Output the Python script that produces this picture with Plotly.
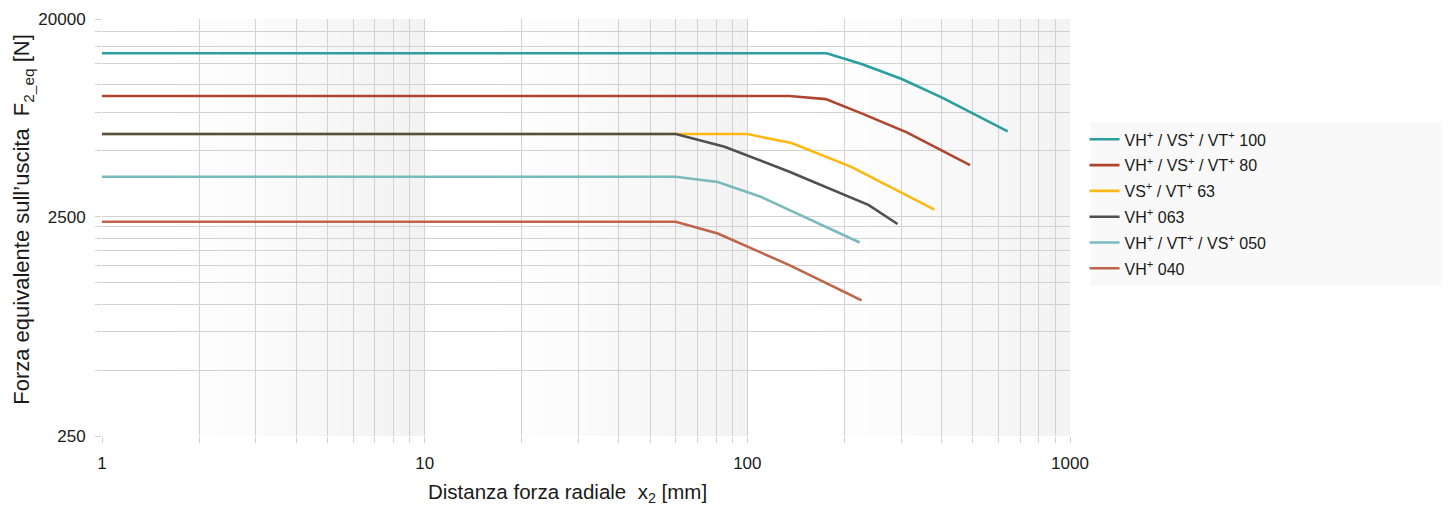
import numpy as np
import plotly.graph_objects as go

# valori (x2 in mm, F2_eq in N)
x_100 = [1, 176, 226, 301, 400, 501, 641]
y_100 = [13950, 13950, 12460, 10650, 8780, 7410, 6140]

x_80 = [1, 135, 175, 226, 312, 490]
y_80 = [8900, 8900, 8620, 7420, 6080, 4310]

x_63 = [1, 60, 100, 137, 210, 380]
y_63 = [5970, 5970, 5970, 5430, 4230, 2700]

x_063 = [1, 60, 85, 135, 238, 292]
y_063 = [5970, 5970, 5220, 4020, 2830, 2320]

x_050 = [1, 60, 81, 110, 223]
y_050 = [3810, 3810, 3610, 3090, 1910]

x_040 = [1, 60, 81, 135, 226]
y_040 = [2375, 2375, 2100, 1505, 1040]

names = ["VH<sup>+</sup> / VS<sup>+</sup> / VT<sup>+</sup> 100",
         "VH<sup>+</sup> / VS<sup>+</sup> / VT<sup>+</sup> 80",
         "VS<sup>+</sup> / VT<sup>+</sup> 63",
         "VH<sup>+</sup> 063",
         "VH<sup>+</sup> / VT<sup>+</sup> / VS<sup>+</sup> 050",
         "VH<sup>+</sup> 040"]
colors = ["#2a9ea0", "#b0452f", "#fdb913", "#505050", "#7bbabc", "#c0644c"]
series = [(x_100, y_100), (x_80, y_80), (x_63, y_63),
          (x_063, y_063), (x_050, y_050), (x_040, y_040)]

x_major = [1, 10, 100, 1000]
x_minor = [m * 10 ** d for d in range(3) for m in range(2, 10)]
y_major = [250, 2500, 20000]
y_minor = [v for v in range(500, 2500, 250)] + list(range(5000, 20000, 2500))

fig = go.Figure()
for i, ((xs, ys), name, col) in enumerate(zip(series, names, colors)):
    fig.add_trace(go.Scatter(x=xs, y=ys, mode="lines", name=name,
                             legendgroup=f"g{i}",
                             line=dict(color=col, width=2.6)))

# sfondo sfumato per decade
shapes = []
n = 30
for d in range(3):
    for i in range(n):
        f0, f1 = i / n, (i + 1) / n
        t = max(0.0, (f0 - 0.2) / 0.8)
        g = int(round(255 - 13 * t))
        shapes.append(dict(type="rect", xref="paper", yref="paper",
                           x0=(d + f0) / 3, x1=(d + f1) / 3, y0=0, y1=1,
                           fillcolor=f"rgb({g},{g},{g})", line_width=0,
                           layer="below"))
# riquadro legenda
shapes.append(dict(type="rect", xref="paper", yref="paper",
                   x0=1.0217, x1=1.40, y0=0.3597, y1=0.753,
                   fillcolor="#f9f9f9", line_width=0, layer="below"))

font = "Liberation Sans, Arial, sans-serif"
grid = "#d2d2d2"
fig.update_layout(
    width=1450, height=506,
    margin=dict(l=94, r=388, t=11, b=78, autoexpand=False),
    paper_bgcolor="white", plot_bgcolor="white",
    font=dict(family=font, size=16, color="#1a1a1a"),
    shapes=shapes,
    legend=dict(x=1.015, y=0.752, xanchor="left", yanchor="top",
                bgcolor="rgba(0,0,0,0)", font=dict(size=16),
                itemwidth=30, tracegroupgap=2),
    annotations=[
        dict(text="Distanza forza radiale  x<sub>2</sub> [mm]",
             xref="paper", yref="paper", x=0.481, y=-0.137,
             xanchor="center", yanchor="middle", showarrow=False,
             font=dict(size=20.5)),
        dict(text="Forza equivalente sull\u2019uscita  F<sub>2_eq</sub> [N]",
             xref="paper", yref="paper", x=-0.081, y=0.52,
             xanchor="center", yanchor="middle", textangle=-90,
             showarrow=False, font=dict(size=22)),
    ],
)
fig.update_xaxes(type="log", range=[0, 3], tickmode="array", tickvals=x_major,
                 ticktext=[str(v) for v in x_major], tickfont=dict(size=17),
                 ticklabelstandoff=6,
                 showgrid=True, gridcolor=grid, gridwidth=1.3,
                 ticks="outside", ticklen=6, tickcolor=grid,
                 minor=dict(tickmode="array", tickvals=x_minor, showgrid=True,
                            gridcolor=grid, gridwidth=1.3, ticks="outside",
                            ticklen=6, tickcolor=grid),
                 zeroline=False, showline=False, automargin=False)
fig.update_yaxes(type="log", range=[np.log10(250), np.log10(20000)],
                 tickmode="array", tickvals=y_major,
                 ticktext=[str(v) for v in y_major], tickfont=dict(size=17),
                 ticklabelstandoff=6,
                 showgrid=True, gridcolor=grid, gridwidth=1.3,
                 ticks="outside", ticklen=6, tickcolor=grid,
                 minor=dict(tickmode="array", tickvals=y_minor, showgrid=True,
                            gridcolor=grid, gridwidth=1.3, ticks="outside",
                            ticklen=6, tickcolor=grid),
                 zeroline=False, showline=False, automargin=False)

fig.write_html("out.html")
